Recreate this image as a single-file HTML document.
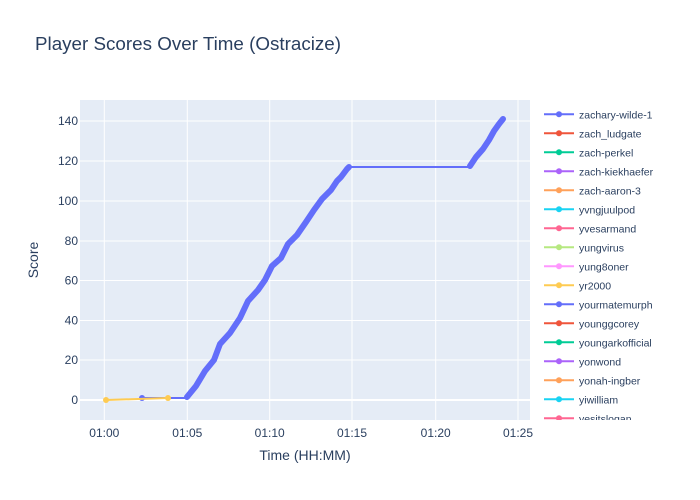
<!DOCTYPE html>
<html><head><meta charset="utf-8"><style>
html,body{margin:0;padding:0;background:#fff;}
svg{display:block;font-family:"Liberation Sans","DejaVu Sans",sans-serif;}
</style></head><body>
<svg width="700" height="500" xmlns="http://www.w3.org/2000/svg">
<rect width="700" height="500" fill="#fff"/>
<text x="35" y="50" font-size="18" fill="#2a3f5f" textLength="306" lengthAdjust="spacingAndGlyphs">Player Scores Over Time (Ostracize)</text>
<rect x="80" y="100" width="450" height="320" fill="#e5ecf6"/>
<g stroke="#fff" stroke-width="1">
<line x1="104.3" y1="100" x2="104.3" y2="420"/>
<line x1="187.3" y1="100" x2="187.3" y2="420"/>
<line x1="269.7" y1="100" x2="269.7" y2="420"/>
<line x1="352" y1="100" x2="352" y2="420"/>
<line x1="435.7" y1="100" x2="435.7" y2="420"/>
<line x1="518" y1="100" x2="518" y2="420"/>
<line x1="80" y1="121" x2="530" y2="121"/>
<line x1="80" y1="161" x2="530" y2="161"/>
<line x1="80" y1="201" x2="530" y2="201"/>
<line x1="80" y1="241" x2="530" y2="241"/>
<line x1="80" y1="280.5" x2="530" y2="280.5"/>
<line x1="80" y1="320.5" x2="530" y2="320.5"/>
<line x1="80" y1="360" x2="530" y2="360"/>
</g>
<line x1="80" y1="400" x2="530" y2="400" stroke="#fff" stroke-width="2"/>
<polyline fill="none" stroke="#636efa" stroke-width="2" points="142,398 187,398"/>
<circle cx="142" cy="398" r="3" fill="#636efa"/>
<polyline fill="none" stroke="#636efa" stroke-width="6" stroke-linecap="round" stroke-linejoin="round" points="187,397 196,386 205,371 214,360 220,344 230,333 240,318 248,301 258,290 265,280 272,266 281,258 288,244 297,235 306,222 314,210 322,199 331,190 337,181 341,177 347,169 349,167"/>
<polyline fill="none" stroke="#636efa" stroke-width="2" points="349,167 470,167"/>
<polyline fill="none" stroke="#636efa" stroke-width="6" stroke-linecap="round" stroke-linejoin="round" points="470,166 476,157 483,149 489,140 494,131 499,124 503,119"/>
<polyline fill="none" stroke="#fecb52" stroke-width="2" points="106,400 168,398"/>
<circle cx="106" cy="400" r="3" fill="#fecb52"/>
<circle cx="168" cy="398" r="3" fill="#fecb52"/>
<g font-size="12" fill="#2a3f5f" text-anchor="end">
<text x="78" y="125">140</text>
<text x="78" y="165">120</text>
<text x="78" y="205">100</text>
<text x="78" y="245">80</text>
<text x="78" y="284.5">60</text>
<text x="78" y="324.5">40</text>
<text x="78" y="364">20</text>
<text x="78" y="404">0</text>
</g>
<g font-size="12" fill="#2a3f5f" text-anchor="middle">
<text x="104.3" y="437">01:00</text>
<text x="187.3" y="437">01:05</text>
<text x="269.7" y="437">01:10</text>
<text x="352" y="437">01:15</text>
<text x="435.7" y="437">01:20</text>
<text x="518" y="437">01:25</text>
<text x="305" y="460" font-size="14">Time (HH:MM)</text>
</g>
<text transform="translate(38,260) rotate(-90)" font-size="14" fill="#2a3f5f" text-anchor="middle">Score</text>
<defs><clipPath id="lc"><rect x="540" y="100" width="160" height="320"/></clipPath></defs>
<g clip-path="url(#lc)" font-size="10.5" fill="#2a3f5f">
<g transform="translate(0,114.3)"><line x1="544" x2="574" stroke="#636efa" stroke-width="2"/><circle cx="559" r="3" fill="#636efa"/><text x="579" y="4">zachary-wilde-1</text></g>
<g transform="translate(0,133.3)"><line x1="544" x2="574" stroke="#EF553B" stroke-width="2"/><circle cx="559" r="3" fill="#EF553B"/><text x="579" y="4">zach_ludgate</text></g>
<g transform="translate(0,152.3)"><line x1="544" x2="574" stroke="#00cc96" stroke-width="2"/><circle cx="559" r="3" fill="#00cc96"/><text x="579" y="4">zach-perkel</text></g>
<g transform="translate(0,171.3)"><line x1="544" x2="574" stroke="#ab63fa" stroke-width="2"/><circle cx="559" r="3" fill="#ab63fa"/><text x="579" y="4">zach-kiekhaefer</text></g>
<g transform="translate(0,190.3)"><line x1="544" x2="574" stroke="#FFA15A" stroke-width="2"/><circle cx="559" r="3" fill="#FFA15A"/><text x="579" y="4">zach-aaron-3</text></g>
<g transform="translate(0,209.3)"><line x1="544" x2="574" stroke="#19d3f3" stroke-width="2"/><circle cx="559" r="3" fill="#19d3f3"/><text x="579" y="4">yvngjuulpod</text></g>
<g transform="translate(0,228.3)"><line x1="544" x2="574" stroke="#FF6692" stroke-width="2"/><circle cx="559" r="3" fill="#FF6692"/><text x="579" y="4">yvesarmand</text></g>
<g transform="translate(0,247.3)"><line x1="544" x2="574" stroke="#B6E880" stroke-width="2"/><circle cx="559" r="3" fill="#B6E880"/><text x="579" y="4">yungvirus</text></g>
<g transform="translate(0,266.3)"><line x1="544" x2="574" stroke="#FF97FF" stroke-width="2"/><circle cx="559" r="3" fill="#FF97FF"/><text x="579" y="4">yung8oner</text></g>
<g transform="translate(0,285.3)"><line x1="544" x2="574" stroke="#FECB52" stroke-width="2"/><circle cx="559" r="3" fill="#FECB52"/><text x="579" y="4">yr2000</text></g>
<g transform="translate(0,304.3)"><line x1="544" x2="574" stroke="#636efa" stroke-width="2"/><circle cx="559" r="3" fill="#636efa"/><text x="579" y="4">yourmatemurph</text></g>
<g transform="translate(0,323.3)"><line x1="544" x2="574" stroke="#EF553B" stroke-width="2"/><circle cx="559" r="3" fill="#EF553B"/><text x="579" y="4">younggcorey</text></g>
<g transform="translate(0,342.3)"><line x1="544" x2="574" stroke="#00cc96" stroke-width="2"/><circle cx="559" r="3" fill="#00cc96"/><text x="579" y="4">youngarkofficial</text></g>
<g transform="translate(0,361.3)"><line x1="544" x2="574" stroke="#ab63fa" stroke-width="2"/><circle cx="559" r="3" fill="#ab63fa"/><text x="579" y="4">yonwond</text></g>
<g transform="translate(0,380.3)"><line x1="544" x2="574" stroke="#FFA15A" stroke-width="2"/><circle cx="559" r="3" fill="#FFA15A"/><text x="579" y="4">yonah-ingber</text></g>
<g transform="translate(0,399.3)"><line x1="544" x2="574" stroke="#19d3f3" stroke-width="2"/><circle cx="559" r="3" fill="#19d3f3"/><text x="579" y="4">yiwilliam</text></g>
<g transform="translate(0,418.3)"><line x1="544" x2="574" stroke="#FF6692" stroke-width="2"/><circle cx="559" r="3" fill="#FF6692"/><text x="579" y="4">yesitslogan</text></g>
</g>
</svg>
</body></html>
